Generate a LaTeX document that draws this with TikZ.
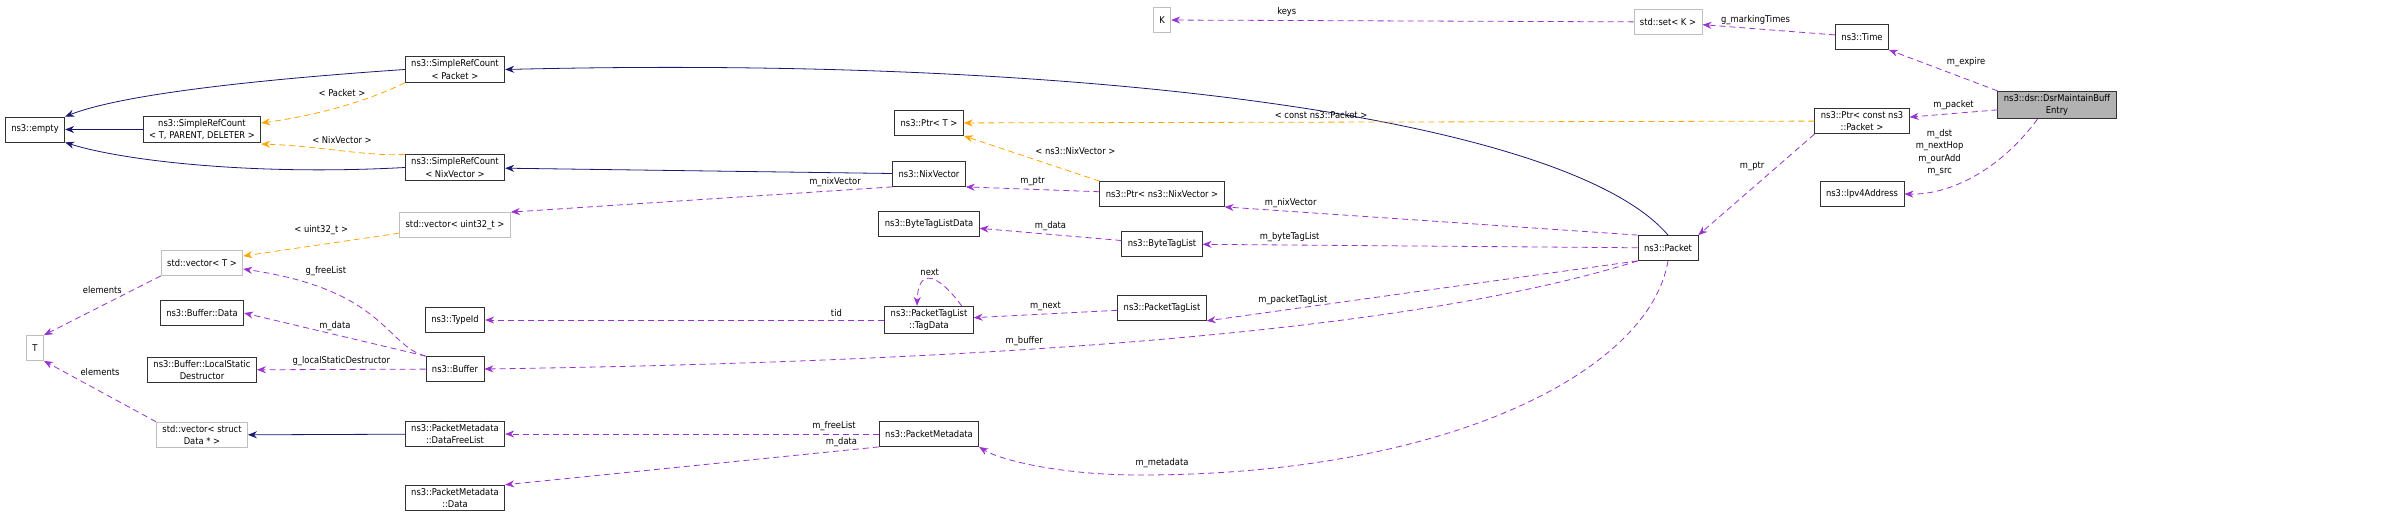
\documentclass[tikz,border=0pt]{standalone}
\usepackage{fontspec}
\setmainfont{DejaVu Sans Condensed}
\usetikzlibrary{arrows.meta,positioning}
\definecolor{inh}{HTML}{191970}
\definecolor{tpl}{HTML}{FFA500}
\definecolor{usg}{HTML}{9A32CD}
\tikzset{
  box/.style={draw=black!80,thick,fill=white,align=center,inner xsep=6pt,inner ysep=3pt,
    minimum height=25pt,font=\fontsize{9.3}{12.5}\selectfont},
  ext/.style={box,draw=black!25},
  cur/.style={box,fill=black!30},
  lbl/.style={font=\fontsize{9.3}{12.5}\selectfont,align=center,text=black},
  tip/.style={-{Stealth[length=9pt,width=7pt]}},
  isa/.style={tip,inh,thick},
  tmpl/.style={tip,tpl,thick,dashed,dash pattern=on 6pt off 4pt},
  has/.style={tip,usg,thick,dash pattern=on 6pt off 4pt},
}
\begin{document}
\begin{tikzpicture}[x=1pt,y=-1pt]
\useasboundingbox (0,0) rectangle (2387,532);
% nodes
\node[box] (empty) at (35,129.5) {ns3::empty};
\node[box] (srcT) at (202,129.5) {ns3::SimpleRefCount\\< T, PARENT, DELETER >};
\node[box] (srcPkt) at (455,69.5) {ns3::SimpleRefCount\\< Packet >};
\node[box] (srcNix) at (455,167.5) {ns3::SimpleRefCount\\< NixVector >};
\node[ext] (vecU) at (455,225) {std::vector< uint32\_t >};
\node[ext] (vecT) at (202,263) {std::vector< T >};
\node[box] (bufData) at (202,313) {ns3::Buffer::Data};
\node[box] (bufLsd) at (202,370) {ns3::Buffer::LocalStatic\\Destructor};
\node[ext] (tT) at (35,348) {T};
\node[ext] (vecD) at (202,435) {std::vector< struct\\Data * >};
\node[box] (typeId) at (455,320) {ns3::TypeId};
\node[box] (buffer) at (455,369) {ns3::Buffer};
\node[box] (pmFree) at (455,434) {ns3::PacketMetadata\\::DataFreeList};
\node[box] (pmData) at (455,498) {ns3::PacketMetadata\\::Data};
\node[ext] (kK) at (1162,20) {K};
\node[box] (ptrT) at (929,123) {ns3::Ptr< T >};
\node[box] (nixVec) at (929,174) {ns3::NixVector};
\node[box] (ptrNix) at (1162,194) {ns3::Ptr< ns3::NixVector >};
\node[box] (btlData) at (929,224) {ns3::ByteTagListData};
\node[box] (btl) at (1162,244) {ns3::ByteTagList};
\node[box] (tagData) at (929,320) {ns3::PacketTagList\\::TagData};
\node[box] (ptl) at (1162,308) {ns3::PacketTagList};
\node[box] (pm) at (929,434) {ns3::PacketMetadata};
\node[ext] (setK) at (1668,22) {std::set< K >};
\node[box] (time) at (1862,37) {ns3::Time};
\node[box] (ptrPkt) at (1862,121) {ns3::Ptr< const ns3\\::Packet >};
\node[cur] (entry) at (2057,105) {ns3::dsr::DsrMaintainBuff\\Entry};
\node[box] (ipv4) at (1862,194) {ns3::Ipv4Address};
\node[box] (packet) at (1668,248) {ns3::Packet};
% inheritance
\draw[isa] (srcT) -- (empty);
\draw[isa] (srcPkt.west) .. controls (250,80) and (120,95) .. (empty.north east);
\draw[isa] (srcNix.west) .. controls (250,176) and (120,160) .. (empty.south east);
\draw[isa] (packet.north) .. controls (1570,120) and (1100,55) .. (srcPkt.east);
\draw[isa] (nixVec) -- (srcNix);
\draw[isa] (pmFree) -- (vecD);
% templates
\draw[tmpl] (srcPkt.south west) .. controls (370,100) and (320,115) .. node[lbl,above=6pt]{< Packet >} (srcT.east |- 0,123);
\draw[tmpl] (srcNix.north west) .. controls (370,157) and (320,146) .. node[lbl,above=4pt]{< NixVector >} (srcT.east |- 0,144);
\draw[tmpl] (vecU) -- node[lbl,above=6pt]{< uint32\_t >} (vecT.east |- 0,256);
\draw[tmpl] (ptrNix.north west) -- node[lbl,above right]{< ns3::NixVector >} (ptrT.south east);
\draw[tmpl] (ptrPkt) -- node[lbl,above,pos=0.58]{< const ns3::Packet >} (ptrT);
% members
\draw[has] (nixVec.south west) -- node[lbl,above,pos=0.15]{m\_nixVector} (vecU.north east);
\draw[has] (buffer.north west) .. controls (385,345) and (385,290) .. node[lbl,above=10pt,pos=0.75]{g\_freeList} (vecT.east |- 0,269);
\draw[has] (vecT.south west) -- node[lbl,above=8pt]{elements} (tT.north east);
\draw[has] (vecD.north west) -- node[lbl,above=12pt]{elements} (tT.south east);
\draw[has] (buffer.north west) -- node[lbl,above]{m\_data} (bufData.east);
\draw[has] (buffer) -- node[lbl,above]{g\_localStaticDestructor} (bufLsd);
\draw[has] (pm) -- node[lbl,above,pos=0.12]{m\_freeList} (pmFree);
\draw[has] (pm.south west) -- node[lbl,above,pos=0.1]{m\_data} (pmData.north east);
\draw[has] (tagData) -- node[lbl,above,pos=0.12]{tid} (typeId);
\draw[has] ([xshift=-12pt]tagData.north east) .. controls (935,270) and (918,270) .. node[lbl,above]{next} ([xshift=-12pt]tagData.north);
\draw[has] (ptl) -- node[lbl,above]{m\_next} (tagData);
\draw[has] (btl) -- node[lbl,above]{m\_data} (btlData);
\draw[has] (ptrNix) -- node[lbl,above]{m\_ptr} (nixVec.south east);
\draw[has] (packet.north west) -- node[lbl,above,pos=0.84]{m\_nixVector} (ptrNix.south east);
\draw[has] (packet) -- node[lbl,above,pos=0.8]{m\_byteTagList} (btl);
\draw[has] (packet.south west) -- node[lbl,above,pos=0.8]{m\_packetTagList} (ptl.south east);
\draw[has] (packet.south west) .. controls (1450,320) and (1100,360) .. node[lbl,above,pos=0.66]{m\_buffer} (buffer.east);
\coordinate (mdBot) at (1140,475);
\draw[has] (packet.south) .. controls (1650,370) and (1450,475) .. (mdBot) .. controls (1060,475) and (1000,460) .. (pm.south east);
\node[lbl,above=4pt] (mdLbl) at (mdBot -| 1162,0) {m\_metadata};
\draw[has] (ptrPkt.south west) -- node[lbl,above left,pos=0.4]{m\_ptr} (packet.north east);
\draw[has] (setK) -- node[lbl,above,pos=0.75]{keys} (kK);
\draw[has] (time) -- node[lbl,above,pos=0.6]{g\_markingTimes} (setK);
\draw[has] (entry.north west) -- node[lbl,above right]{m\_expire} (time.south east);
\draw[has] (entry) -- node[lbl,above]{m\_packet} (ptrPkt);
\draw[has] ([xshift=40pt]entry.south west) .. controls (2000,170) and (1950,195) .. node[lbl,pos=0.55,above left]{m\_dst\\m\_nextHop\\m\_ourAdd\\m\_src} (ipv4.east);
\end{tikzpicture}
\end{document}
